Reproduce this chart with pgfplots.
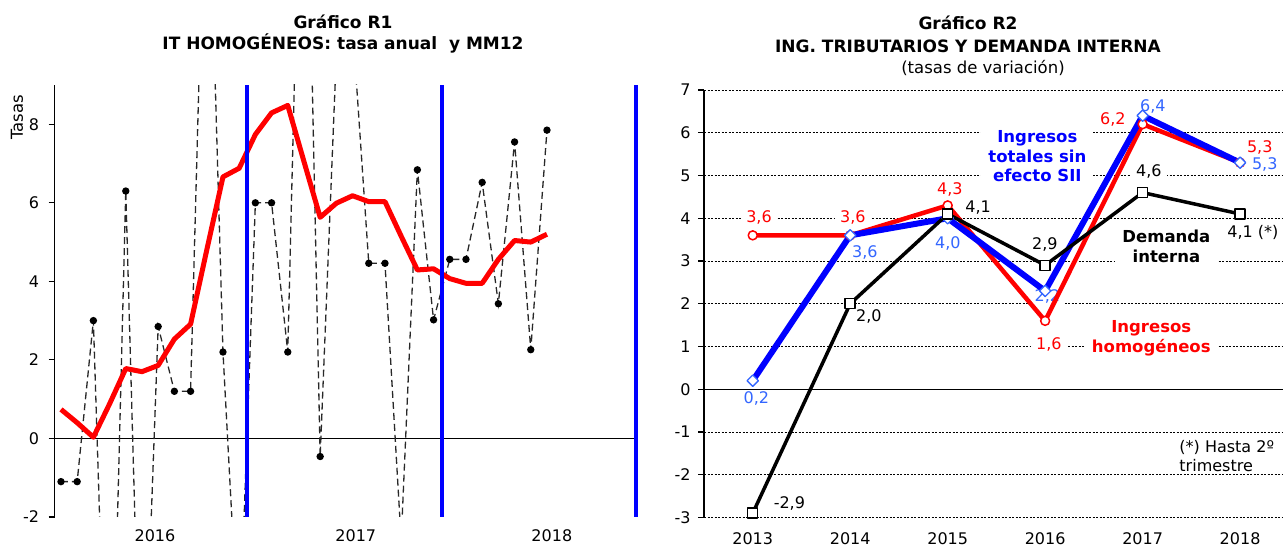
\documentclass[border=0pt]{standalone}
\usepackage{fontspec}
\setmainfont{DejaVu Sans}
\usepackage{pgfplots}
\pgfplotsset{compat=1.18}
\definecolor{lblue}{RGB}{51,102,255}
\definecolor{pblue}{RGB}{0,0,255}
\definecolor{dgray}{RGB}{40,40,40}
\tikzset{
  lab/.style={inner xsep=5pt, inner ysep=1pt, fill=white, font=\fontsize{16}{19}\selectfont},
  ann/.style={inner xsep=7pt, inner ysep=2pt, fill=white, align=center, font=\fontsize{16.5}{19.5}\selectfont\bfseries},
}
\begin{document}
\fontsize{16}{19}\selectfont%
\begin{tikzpicture}
% ---------- titles ----------
\node[anchor=base,font=\fontsize{17}{20}\selectfont\bfseries,inner sep=0pt] at (343pt,519.7pt) {Gráfico R1};
\node[anchor=base,font=\fontsize{17}{20}\selectfont\bfseries,inner sep=0pt] at (343pt,498.5pt) {IT HOMOGÉNEOS: tasa anual\ \ y MM12};
\node[anchor=base,font=\fontsize{17}{20}\selectfont\bfseries,inner sep=0pt] at (968pt,518pt) {Gráfico R2};
\node[anchor=base,font=\fontsize{17}{20}\selectfont\bfseries,inner sep=0pt] at (968pt,495.5pt) {ING. TRIBUTARIOS Y DEMANDA INTERNA};
\node[anchor=base,font=\fontsize{16.5}{19}\selectfont,inner sep=0pt] at (983pt,474.5pt) {(tasas de variación)};
\node[rotate=90,font=\fontsize{16.5}{19}\selectfont,inner sep=0pt] at (17pt,430.5pt) {Tasas};
% ---------- left chart ----------
\begin{axis}[
  at={(54.5pt,31pt)}, anchor=south west,
  scale only axis, width=584pt, height=432pt,
  xmin=-0.4, xmax=35.65, ymin=-2, ymax=9,
  axis y line*=left, axis x line*=bottom,
  axis line style={-, line width=1.2pt},
  x axis line style={draw=none},
  xtick={5.8,18.2,30.3}, xticklabels={2016,2017,2018},
  xtick style={draw=none},
  xticklabel style={yshift=-4pt, inner ysep=2pt},
  ytick={-2,0,2,4,6,8},
  ytick style={line width=1.2pt, black},
  tick align=outside, major tick length=6pt,
  yticklabel style={xshift=-4pt},
  /pgf/number format/assume math mode=true,
]
\draw[line width=1.2pt] (axis cs:-0.4,0) -- (axis cs:35.5,0);
\addplot[dgray, line width=1.3pt, dash pattern=on 7pt off 4pt, mark=*, mark size=3pt, mark options={solid, fill=black, draw=black}] coordinates {
(0,-1.1) (1,-1.1) (2,3.0) (3,-10) (4,6.3) (5,-8.5) (6,2.85) (7,1.2) (8,1.2) (9,16.5)
(10,2.2) (11,-5.5) (12,6.0) (13,6.0) (14,2.2) (15,19) (16,-0.46) (17,9.8) (18,10.5) (19,4.46)
(20,4.46) (21,-2.6) (22,6.84) (23,3.02) (24,4.56) (25,4.56) (26,6.52) (27,3.43) (28,7.55) (29,2.26)
(30,7.85)};
\addplot[red, line width=5pt, line join=round, no marks] coordinates {
(0,0.74) (1,0.40) (2,0.03) (3,0.88) (4,1.78) (5,1.70) (6,1.86) (7,2.53) (8,2.91) (9,4.8)
(10,6.66) (11,6.88) (12,7.74) (13,8.29) (14,8.48) (15,7.05) (16,5.63) (17,5.99) (18,6.18) (19,6.03)
(20,6.03) (21,5.15) (22,4.29) (23,4.32) (24,4.07) (25,3.95) (26,3.95) (27,4.56) (28,5.04) (29,5.0)
(30,5.2)};
\draw[pblue, line width=4pt] (axis cs:11.5,-2) -- (axis cs:11.5,9);
\draw[pblue, line width=4pt] (axis cs:23.5,-2) -- (axis cs:23.5,9);
\draw[pblue, line width=4pt] (axis cs:35.5,-2) -- (axis cs:35.5,9);
\end{axis}
% ---------- right chart ----------
\begin{axis}[
  at={(704pt,30.5pt)}, anchor=south west,
  scale only axis, width=578pt, height=427.5pt,
  xmin=-0.5, xmax=5.43, ymin=-3, ymax=7,
  axis y line*=left, axis x line*=bottom,
  axis line style={-, line width=1.2pt},
  x axis line style={draw=none},
  xtick={0,1,2,3,4,5}, xticklabels={2013,2014,2015,2016,2017,2018},
  xtick style={draw=none},
  xticklabel style={yshift=-4pt},
  ytick={-3,-2,-1,0,1,2,3,4,5,6,7},
  ytick style={line width=1.2pt, black},
  tick align=outside, major tick length=6pt,
  yticklabel style={xshift=-2pt},
  ymajorgrids,
  major grid style={black, line width=0.9pt, dash pattern=on 2.2pt off 1.3pt},
  /pgf/number format/assume math mode=true,
]
\draw[line width=1.3pt] (axis cs:-0.5,0) -- (axis cs:5.43,0);
% annotations
\node[ann, text=pblue] at (axis cs:2.92,5.45) {Ingresos\\totales sin\\efecto SII};
\node[ann, text=black] at (axis cs:4.244,3.345) {Demanda\\interna};
\node[ann, text=red] at (axis cs:4.089,1.193) {Ingresos\\homogéneos};
\node[anchor=west, inner sep=0pt, align=left, font=\fontsize{16}{19}\selectfont] at (axis cs:4.376,-1.567) {(*) Hasta 2º\\trimestre};
% data labels: red
\node[lab, text=red] at (axis cs:0.064,4.012) {3,6};
\node[lab, text=red] at (axis cs:1.028,4.012) {3,6};
\node[lab, text=red] at (axis cs:2.023,4.678) {4,3};
\node[lab, text=red] at (axis cs:3.038,1.053) {1,6};
\node[lab, text=red] at (axis cs:3.694,6.316) {6,2};
\node[lab, text=red] at (axis cs:5.202,5.661) {5,3};
% blue
\node[lab, text=lblue] at (axis cs:0.038,-0.211) {0,2};
\node[lab, text=lblue] at (axis cs:1.151,3.193) {3,6};
\node[lab, text=lblue] at (axis cs:2.002,3.415) {4,0};
\node[lab, text=lblue] at (axis cs:3.023,2.175) {2,2};
\node[lab, text=lblue] at (axis cs:4.105,6.620) {6,4};
\node[lab, text=lblue] at (axis cs:5.253,5.263) {5,3};
% black
\node[lab, text=black] at (axis cs:0.376,-2.667) {-2,9};
\node[lab, text=black] at (axis cs:1.192,1.708) {2,0};
\node[lab, text=black] at (axis cs:2.313,4.246) {4,1};
\node[lab, text=black] at (axis cs:2.997,3.392) {2,9};
\node[lab, text=black] at (axis cs:4.064,5.099) {4,6};
\node[lab, text=black, anchor=west, inner xsep=0pt] at (axis cs:4.867,3.661) {4,1 (*)};
% series
\addplot[red, line width=4.5pt, line join=round, mark=*, mark size=4.5pt, mark options={fill=white, draw=red, line width=1.5pt}] coordinates {
(0,3.6) (1,3.6) (2,4.3) (3,1.6) (4,6.2) (5,5.3)};
\addplot[pblue, line width=6pt, line join=round, mark=square*, mark size=4pt, mark options={rotate=45, fill=white, draw=lblue, line width=1.3pt}] coordinates {
(0,0.2) (1,3.6) (2,4.0) (3,2.3) (4,6.4) (5,5.3)};
\addplot[black, line width=3.5pt, line join=round, mark=square*, mark size=5pt, mark options={fill=white, draw=black, line width=1.5pt}] coordinates {
(0,-2.9) (1,2.0) (2,4.1) (3,2.9) (4,4.6) (5,4.1)};
\end{axis}
\pgfresetboundingbox
\path[use as bounding box] (0pt,0pt) rectangle (1283pt,548pt);
\end{tikzpicture}
\end{document}
